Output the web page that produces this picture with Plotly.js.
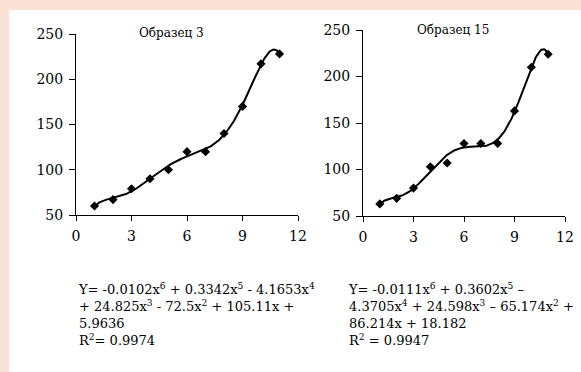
<!DOCTYPE html>
<html>
<head>
<meta charset="utf-8">
<script src="https://cdn.plot.ly/plotly-3.0.1.min.js"></script>
<style>html,body{margin:0;padding:0;background:#fbe2d6;}#chart{width:581px;height:372px;}</style>
</head>
<body>
<div id="chart"></div>
<script>
// ---- data ----
const xValues = [1, 2, 3, 4, 5, 6, 7, 8, 9, 10, 11];
const sample3 = [60, 67, 79, 90, 100, 120, 120, 140, 170, 217, 228];
const sample15 = [63, 69, 80, 103, 107, 128, 128, 128, 163, 210, 224];
const titles = ["Образец 3", "Образец 15"];
const xTicks = [0, 3, 6, 9, 12];
const yTicks = [50, 100, 150, 200, 250];
const eq3Lines = [
  "Y= -0.0102x<sup>6</sup> + 0.3342x<sup>5</sup> - 4.1653x<sup>4</sup>",
  "+ 24.825x<sup>3</sup> - 72.5x<sup>2</sup> + 105.11x +",
  "5.9636",
  "R<sup>2</sup>= 0.9974"
];
const eq15Lines = [
  "Y= -0.0111x<sup>6</sup> + 0.3602x<sup>5</sup> –",
  "4.3705x<sup>4</sup> + 24.598x<sup>3</sup> – 65.174x<sup>2</sup> +",
  "86.214x + 18.182",
  "R<sup>2</sup> = 0.9947"
];
const fitDegree = 6;

// least-squares polynomial trendline (as in the spreadsheet's trendline)
function polyfit(xs, ys, deg) {
  const m = (Math.min(...xs) + Math.max(...xs)) / 2;
  const s = (Math.max(...xs) - Math.min(...xs)) / 2;
  const n = deg + 1;
  const A = [];
  for (let i = 0; i < n; i++) { A.push(new Array(n + 1).fill(0)); }
  xs.forEach((x, k) => {
    const t = (x - m) / s;
    const p = [];
    for (let i = 0; i < n; i++) p.push(Math.pow(t, i));
    for (let i = 0; i < n; i++) {
      for (let j = 0; j < n; j++) A[i][j] += p[i] * p[j];
      A[i][n] += p[i] * ys[k];
    }
  });
  for (let c = 0; c < n; c++) {
    let piv = c;
    for (let r = c + 1; r < n; r++) if (Math.abs(A[r][c]) > Math.abs(A[piv][c])) piv = r;
    [A[c], A[piv]] = [A[piv], A[c]];
    for (let r = 0; r < n; r++) {
      if (r === c) continue;
      const f = A[r][c] / A[c][c];
      for (let k = c; k <= n; k++) A[r][k] -= f * A[c][k];
    }
  }
  const coef = A.map((row, i) => row[n] / row[i]);
  return x => { const t = (x - m) / s; let v = 0; for (let i = n - 1; i >= 0; i--) v = v * t + coef[i]; return v; };
}
function trend(xs, ys) {
  const f = polyfit(xs, ys, fitDegree);
  const tx = [], ty = [];
  const x0 = xs[0], x1 = xs[xs.length - 1];
  for (let i = 0; i <= 200; i++) { const x = x0 + (x1 - x0) * i / 200; tx.push(x); ty.push(f(x)); }
  return {tx, ty};
}
const t3 = trend(xValues, sample3);
const t15 = trend(xValues, sample15);

const W = 581, H = 372;
const px = v => v / W;
const py = v => 1 - v / H;
const fam = "DejaVu Serif";

const traces = [
  {x: t3.tx, y: t3.ty, mode: 'lines', line: {color: '#000', width: 2}, xaxis: 'x', yaxis: 'y', hoverinfo: 'skip'},
  {x: xValues, y: sample3, mode: 'markers', marker: {symbol: 'diamond', color: '#000', size: 7}, xaxis: 'x', yaxis: 'y'},
  {x: t15.tx, y: t15.ty, mode: 'lines', line: {color: '#000', width: 2}, xaxis: 'x2', yaxis: 'y2', hoverinfo: 'skip'},
  {x: xValues, y: sample15, mode: 'markers', marker: {symbol: 'diamond', color: '#000', size: 7}, xaxis: 'x2', yaxis: 'y2'}
];

function xax(domain) {
  return {domain, range: [0, 12], tickvals: xTicks, ticktext: xTicks.map(String), ticks: 'outside', ticklen: 5,
    tickcolor: '#000', showline: true, linecolor: '#000', linewidth: 1, showgrid: false, zeroline: false,
    ticklabelstandoff: 3,
    tickfont: {family: fam, size: 14, color: '#000'}, automargin: false, fixedrange: true};
}
function yax(domain, anchor) {
  return {domain, range: [50, 250], tickvals: yTicks, ticktext: yTicks.map(String), ticks: 'outside', ticklen: 6,
    tickcolor: '#000', showline: true, linecolor: '#000', linewidth: 1, showgrid: false, zeroline: false,
    ticklabelstandoff: 3,
    tickfont: {family: fam, size: 14, color: '#000'}, automargin: false, anchor, fixedrange: true};
}

const annotations = [
  {text: titles[0], xref: 'paper', yref: 'paper', x: px(171), y: py(33), xanchor: 'center', yanchor: 'middle', showarrow: false, font: {family: fam, size: 12, color: '#000'}},
  {text: titles[1], xref: 'paper', yref: 'paper', x: px(453), y: py(30), xanchor: 'center', yanchor: 'middle', showarrow: false, font: {family: fam, size: 12, color: '#000'}},
  {text: eq3Lines.join('<br>'), xref: 'paper', yref: 'paper', x: px(76), y: py(279), xanchor: 'left', yanchor: 'top',
    align: 'left', showarrow: false, font: {family: fam, size: 13, color: '#000'}},
  {text: eq15Lines.join('<br>'), xref: 'paper', yref: 'paper', x: px(346), y: py(279), xanchor: 'left', yanchor: 'top',
    align: 'left', showarrow: false, font: {family: fam, size: 13, color: '#000'}}
];

const layout = {
  width: W, height: H,
  margin: {l: 0, r: 0, t: 0, b: 0},
  paper_bgcolor: '#fbe2d6', plot_bgcolor: 'rgba(0,0,0,0)',
  showlegend: false,
  xaxis: Object.assign(xax([px(76), px(298)]), {anchor: 'y'}),
  yaxis: yax([py(215), py(34)], 'x'),
  xaxis2: Object.assign(xax([px(363), px(565)]), {anchor: 'y2'}),
  yaxis2: yax([py(216), py(30)], 'x2'),
  shapes: [
    {type: 'rect', xref: 'paper', yref: 'paper', x0: px(9), x1: 1.01, y0: -0.01, y1: py(10), fillcolor: '#ffffff', line: {width: 0}, layer: 'below'}
  ],
  annotations
};

Plotly.newPlot('chart', traces, layout, {staticPlot: true, displayModeBar: false});
</script>
</body>
</html>
